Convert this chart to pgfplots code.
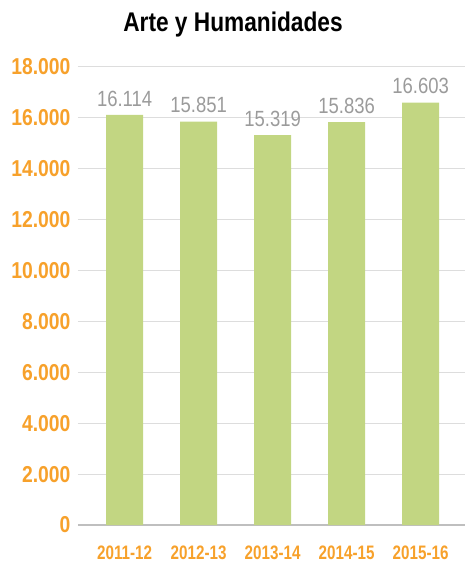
\documentclass[border=0pt]{standalone}
\usepackage{fontspec}
\setmainfont{Liberation Sans}[FakeStretch=0.84]
\newfontfamily\narrowfont{Liberation Sans}[FakeStretch=0.78]
\usepackage{pgfplots}
\pgfplotsset{compat=1.18}
\definecolor{barverde}{HTML}{C2D682}
\definecolor{naranja}{HTML}{F7A12B}
\definecolor{gristexto}{HTML}{9B9B9B}
\definecolor{rejilla}{HTML}{DDDDDD}
\begin{document}
\begin{tikzpicture}[x=1pt,y=1pt]
\begin{axis}[
  at={(0,0)}, anchor=south west,
  scale only axis,
  width=387pt, height=458pt,
  ymin=0, ymax=18000,
  xmin=-0.63, xmax=4.6,
  ytick={0,2000,...,18000},
  scaled y ticks=false,
  yticklabel={\pgfmathprintnumber[fixed,precision=0,1000 sep={.}]{\tick}},
  xtick={0,1,2,3,4},
  xticklabels={2011-12,2012-13,2013-14,2014-15,2015-16},
  /pgf/number format/assume math mode=true,
  /pgf/number format/1000 sep={.},
  ymajorgrids,
  grid style={rejilla, line width=1pt},
  axis x line*=bottom,
  axis y line*=left,
  y axis line style={draw=none},
  x axis line style={draw=black!25, line width=2pt, -},
  major tick length=0pt,
  tick style={draw=none},
  yticklabel style={font=\bfseries\fontsize{23}{26}\selectfont, text=naranja, anchor=east, xshift=-4pt},
  xticklabel style={font=\narrowfont\bfseries\fontsize{19.5}{22}\selectfont, text=naranja, yshift=-17pt},
  clip=false,
  nodes near coords,
  every node near coord/.append style={font=\fontsize{22}{25}\selectfont, text=gristexto, anchor=south, yshift=5pt,
    /pgf/number format/1000 sep={.}},
]
\addplot[ybar, bar width=37pt, fill=barverde, draw=none] coordinates {
  (0,16114) (1,15851) (2,15319) (3,15836) (4,16603)
};
\end{axis}
\node[font=\bfseries\fontsize{27}{30}\selectfont] at (155,500) {Arte y Humanidades};
\path[use as bounding box] (-78,-43) rectangle (387,525);
\end{tikzpicture}
\end{document}
